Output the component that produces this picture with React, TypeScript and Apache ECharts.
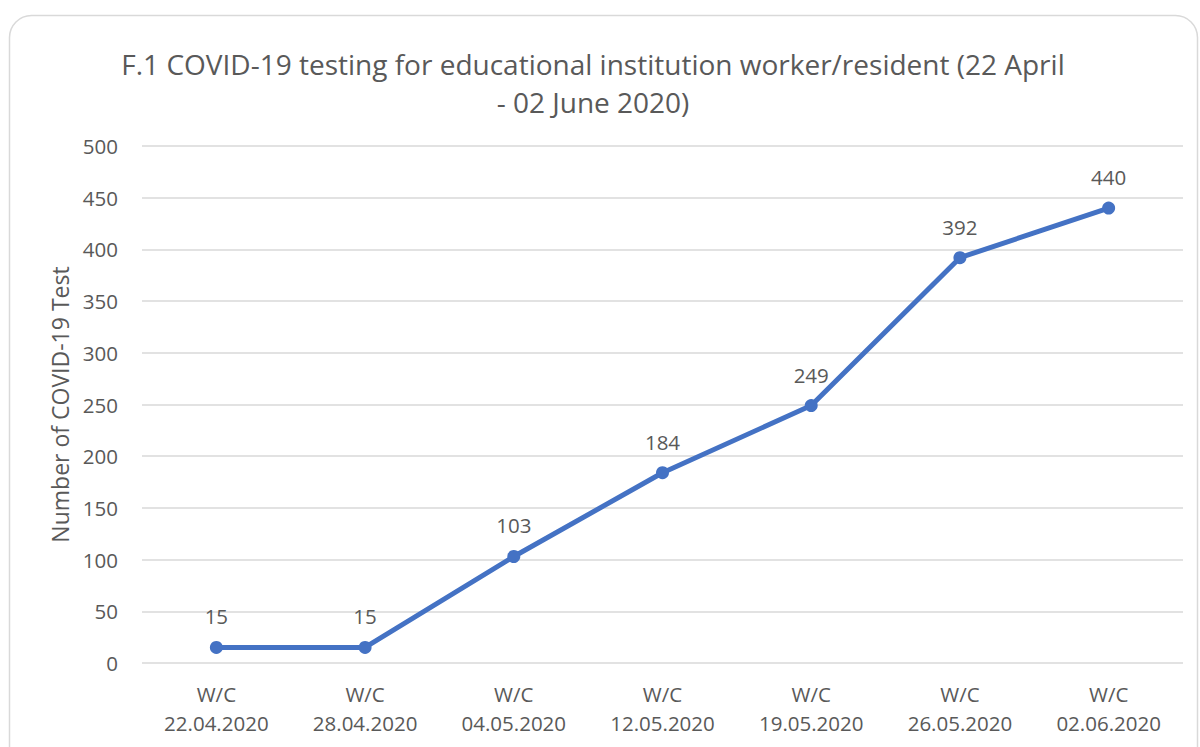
import React, { useEffect, useRef } from "react";
import * as echarts from "echarts";

const titleText = "F.1 COVID-19 testing for educational institution worker/resident (22 April\n- 02 June 2020)";
const categories = [
  "W/C\n22.04.2020",
  "W/C\n28.04.2020",
  "W/C\n04.05.2020",
  "W/C\n12.05.2020",
  "W/C\n19.05.2020",
  "W/C\n26.05.2020",
  "W/C\n02.06.2020",
];
const testCounts = [15, 15, 103, 184, 249, 392, 440];
const yAxisName = "Number of COVID-19 Test";

const FONT = "'Open Sans', 'Noto Sans', sans-serif";
const TEXT = "#595959";

export default function App() {
  const ref = useRef<HTMLDivElement>(null);
  useEffect(() => {
    if (!ref.current) return;
    const chart = echarts.init(ref.current, undefined, { renderer: "svg" });
    chart.setOption({
      animation: false,
      backgroundColor: "#ffffff",
      textStyle: { fontFamily: FONT },
      graphic: [
        {
          type: "rect",
          shape: { x: 9.5, y: 15.5, width: 1188, height: 760, r: 22 },
          style: { fill: "none", stroke: "#d9d9d9", lineWidth: 1.5 },
          z: -1,
        },
      ],
      title: {
        text: titleText,
        left: 588,
        top: 40,
        textAlign: "center",
        textStyle: {
          fontFamily: FONT,
          fontSize: 28,
          fontWeight: "normal",
          color: TEXT,
          lineHeight: 38,
        },
      },
      grid: { left: 142, right: 17, top: 146, bottom: 84 },
      xAxis: {
        type: "category",
        data: categories,
        boundaryGap: true,
        axisLine: { show: false },
        axisTick: { show: false },
        axisLabel: {
          color: TEXT,
          fontSize: 20.5,
          lineHeight: 29,
          margin: 16,
          fontFamily: FONT,
        },
      },
      yAxis: {
        type: "value",
        min: 0,
        max: 500,
        interval: 50,
        name: yAxisName,
        nameLocation: "middle",
        nameGap: 70,
        nameTextStyle: { color: TEXT, fontSize: 23, fontFamily: FONT },
        axisLine: { show: false },
        axisTick: { show: false },
        axisLabel: { color: TEXT, fontSize: 20.5, margin: 24, fontFamily: FONT },
        splitLine: { lineStyle: { color: "#d9d9d9", width: 1.5 } },
      },
      series: [
        {
          type: "line",
          data: testCounts,
          symbol: "circle",
          symbolSize: 13,
          lineStyle: { color: "#4472C4", width: 5 },
          itemStyle: { color: "#4472C4" },
          label: {
            show: true,
            position: "top",
            distance: 14,
            color: TEXT,
            fontSize: 20.5,
            fontFamily: FONT,
          },
        },
      ],
    });
    return () => chart.dispose();
  }, []);
  return (
    <div
      ref={ref}
      style={{ position: "fixed", left: 0, top: 0, width: 1200, height: 747 }}
    />
  );
}
